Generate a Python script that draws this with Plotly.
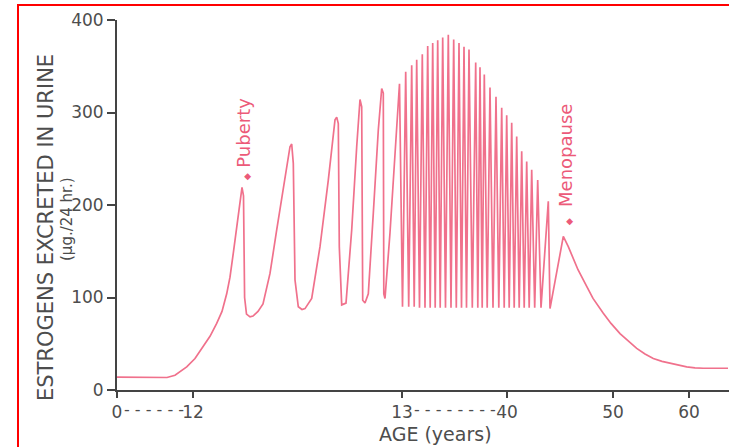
import plotly.graph_objects as go

# ---------------- data (x = position along the schematic, broken age axis) ----------------
# childhood rise, puberty and the first irregular cycles
early_x = [0, 20, 40, 50, 58, 69.7, 78, 86, 93, 99.7, 105, 109.7, 113, 116.3, 119, 121.3, 123.7,
           125, 126.5, 127.3, 127.6, 129.5, 133, 136, 141, 146, 153, 159.7, 166.3, 173, 174.7,
           176.3, 178, 181.3, 185, 188, 194.7, 203, 211.3, 218, 219.7, 221.3, 222.3, 224.7, 229,
           234.7, 239.7, 243, 244.7, 245.7, 248, 251.3, 256.3, 261.3, 264.7, 266.3, 266.8, 268,
           273, 279.7]
early_y = [14, 13.5, 13, 13.5, 16, 25, 34, 47, 58, 72, 85, 104, 122, 148, 170, 191, 214,
           219, 210, 150, 100, 82, 79, 80, 85, 93, 126, 173, 216, 263, 266,
           245, 119, 90, 87, 88, 99, 155, 227, 292, 295, 288, 155, 92, 94,
           173, 263, 314, 306, 97, 94, 104, 191, 281, 326, 321, 104, 99,
           170, 281]

# regular menstrual cycles of the reproductive years
cycle_peak_x = [282.5, 288.7, 294.7, 299.7, 305.3, 310.7, 315.7, 320.7, 325.7, 331.3, 336.7, 342,
                347, 352, 358.7, 363, 367.3, 373, 379, 384.7, 389.7, 394.7, 399.7, 404.7, 409.7,
                414.7, 420.7, 431.3]
cycle_peak_y = [331, 344, 351, 357, 363, 372, 375, 378, 381, 384, 379, 375,
                371, 368, 354, 349, 341, 327, 317, 305, 297, 289, 274, 258, 247,
                238, 227, 204]
cycle_trough_x = [285.5, 291.7, 297.2, 302.5, 308, 313.2, 318.2, 323.2, 328.5, 334, 339.3, 344.5,
                  349.5, 355.3, 360.8, 365.2, 370.2, 376, 381.8, 387.2, 392.2, 397.2, 402.2,
                  407.2, 412.2, 417.7, 424]
cycle_trough_y = [90, 90, 90, 89, 89, 89, 89, 89, 89, 89, 89, 89,
                  89, 89, 89, 89, 89, 89, 89, 89, 89, 89, 89,
                  89, 89, 89, 89]

# menopause and decline
late_x = [433, 446.3, 451.3, 456.3, 461, 469.7, 476, 486.3, 494, 503, 511, 519.7, 528, 536.3,
          545, 553, 561, 569.7, 578, 586.3, 611]
late_y = [88, 166, 155, 141, 130, 112, 99, 83, 72, 61, 53, 45, 39, 34,
          31, 29, 27, 25, 24, 23.5, 23.5]

x_tick_pos = [0, 76, 285, 390, 496, 572]
x_tick_text = ["0", "12", "13", "40", "50", "60"]
y_tick_vals = [0, 100, 200, 300, 400]

# ---------------- assemble the curve ----------------
xs = list(early_x)
ys = list(early_y)
for i in range(len(cycle_peak_x)):
    xs.append(cycle_peak_x[i]); ys.append(cycle_peak_y[i])
    if i < len(cycle_trough_x):
        xs.append(cycle_trough_x[i]); ys.append(cycle_trough_y[i])
xs += late_x
ys += late_y

LINE = "#f0718c"
TXT = "#4d4d4d"
FONT = "DejaVu Sans"

fig = go.Figure()
fig.add_trace(go.Scatter(x=xs, y=ys, mode="lines",
                         line=dict(color=LINE, width=1.7), hoverinfo="skip"))

W, H = 729, 447
ML, MR, MT, MB = 117, 0, 20, 57
PW, PH = W - ML - MR, H - MT - MB

def px_x(p):
    return (p - ML) / PW

def px_y(p):
    return (H - MB - p) / PH

fig.update_layout(
    width=W, height=H,
    margin=dict(l=ML, r=MR, t=MT, b=MB, autoexpand=False),
    paper_bgcolor="white", plot_bgcolor="white",
    showlegend=False,
    font=dict(family=FONT, color=TXT),
    xaxis=dict(range=[0, PW], tickmode="array", tickvals=x_tick_pos, ticktext=x_tick_text,
               showgrid=False, zeroline=False, showline=True, linecolor="#444", linewidth=2,
               ticks="outside", ticklen=6, tickwidth=2, tickcolor="#444",
               tickfont=dict(size=17, color=TXT, family=FONT), fixedrange=True),
    yaxis=dict(range=[0, 400], tickmode="array", tickvals=y_tick_vals,
               showgrid=False, zeroline=False, showline=True, linecolor="#444", linewidth=2,
               ticks="outside", ticklen=8, tickwidth=2, tickcolor="#444",
               tickfont=dict(size=17, color=TXT, family=FONT), fixedrange=True),
)

ann = []
# dashes of the broken axis labels
ann.append(dict(x=37, y=px_y(410), xref="x", yref="paper", text="- - - - - -",
                showarrow=False, font=dict(size=16, color=TXT, family=FONT), yanchor="middle"))
ann.append(dict(x=337.5, y=px_y(410), xref="x", yref="paper", text="- - - - - - - -",
                showarrow=False, font=dict(size=16, color=TXT, family=FONT), yanchor="middle"))
# axis titles
ann.append(dict(x=318, y=px_y(434), xref="x", yref="paper", text="AGE (years)",
                showarrow=False, font=dict(size=19, color=TXT, family=FONT), yanchor="middle"))
ann.append(dict(x=px_x(46), y=px_y(228), xref="paper", yref="paper",
                text="ESTROGENS EXCRETED IN URINE", textangle=-90,
                showarrow=False, font=dict(size=21, color=TXT, family=FONT),
                xanchor="center", yanchor="middle"))
ann.append(dict(x=px_x(67), y=px_y(219), xref="paper", yref="paper",
                text="(μg./24 hr.)", textangle=-90,
                showarrow=False, font=dict(size=15, color=TXT, family=FONT),
                xanchor="center", yanchor="middle"))
# event labels
ann.append(dict(x=126, y=271, xref="x", yref="y",
                text="<span style='font-size:9px'>◆</span> Puberty", textangle=-90,
                showarrow=False, font=dict(size=18, color="#ec5a79", family=FONT),
                xanchor="center", yanchor="middle"))
ann.append(dict(x=448, y=244, xref="x", yref="y",
                text="<span style='font-size:9px'>◆</span>  Menopause", textangle=-90,
                showarrow=False, font=dict(size=18, color="#ec5a79", family=FONT),
                xanchor="center", yanchor="middle"))
fig.update_layout(annotations=ann)

# red frame (top and left visible)
fig.add_shape(type="rect", xref="paper", yref="paper",
              x0=px_x(18), x1=px_x(760), y0=px_y(480), y1=px_y(5),
              line=dict(color="#ff0000", width=2), fillcolor="rgba(0,0,0,0)", layer="above")

fig.write_html("out.html", config={"displayModeBar": False},
               post_script="document.body.style.margin='0px';")
